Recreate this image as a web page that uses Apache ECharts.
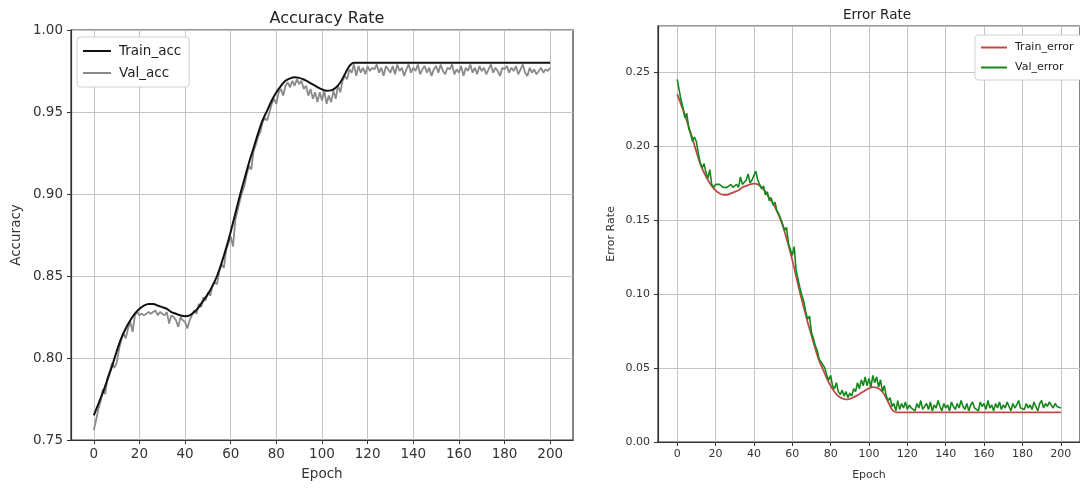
<!DOCTYPE html>
<html lang="en">
<head>
    <meta charset="UTF-8">
    <title>Accuracy / Error Rate</title>
    <script src="https://cdn.jsdelivr.net/npm/echarts@6/dist/echarts.min.js"></script>
    <style>
        html, body { margin: 0; padding: 0; background: #fff; }
    </style>
</head>
<body>
    <div id="main" style="width: 1080px;height: 488px"></div>
    <script type="application/javascript">
        // epochs: train curves sampled every 2 epochs, val curves every epoch
        var trainEpochs = [];
        for (var i = 0; i <= 200; i += 2) trainEpochs.push(i);
        var valEpochs = [];
        for (var j = 0; j <= 200; j++) valEpochs.push(j);

        var xTicks = [0, 20, 40, 60, 80, 100, 120, 140, 160, 180, 200];

        var trainAcc = [
            0.765, 0.772, 0.779, 0.787, 0.795, 0.804, 0.812, 0.818, 0.823, 0.827,
            0.830, 0.832, 0.833, 0.833, 0.832, 0.831, 0.830, 0.828, 0.827, 0.826,
            0.8255, 0.826, 0.828, 0.831, 0.835, 0.839, 0.844, 0.850, 0.858, 0.867,
            0.877, 0.888, 0.899, 0.909, 0.919, 0.928, 0.937, 0.945, 0.951, 0.957,
            0.962, 0.966, 0.969, 0.9705, 0.9712, 0.9708, 0.9698, 0.9684, 0.9668, 0.9652,
            0.9638, 0.963, 0.9632, 0.9648, 0.968, 0.973, 0.978, 0.980, 0.980, 0.980,
            0.980, 0.980, 0.980, 0.980, 0.980, 0.980, 0.980, 0.980, 0.980, 0.980,
            0.980, 0.980, 0.980, 0.980, 0.980, 0.980, 0.980, 0.980, 0.980, 0.980,
            0.980, 0.980, 0.980, 0.980, 0.980, 0.980, 0.980, 0.980, 0.980, 0.980,
            0.980, 0.980, 0.980, 0.980, 0.980, 0.980, 0.980, 0.980, 0.980, 0.980,
            0.980
        ];

        var valAcc = [
            0.756, 0.762, 0.769, 0.774, 0.781, 0.778, 0.788, 0.792, 0.797, 0.794,
            0.797, 0.805, 0.811, 0.815, 0.812, 0.818, 0.822, 0.816, 0.826, 0.828,
            0.826, 0.827, 0.826, 0.827, 0.828, 0.827, 0.828, 0.829, 0.826, 0.828,
            0.827, 0.826, 0.828, 0.821, 0.826, 0.825, 0.823, 0.819, 0.825, 0.823,
            0.822, 0.818, 0.823, 0.826, 0.829, 0.827, 0.833, 0.831, 0.837, 0.835,
            0.840, 0.838, 0.844, 0.846, 0.845, 0.853, 0.857, 0.855, 0.866, 0.870,
            0.874, 0.868, 0.884, 0.890, 0.896, 0.901, 0.905, 0.912, 0.917, 0.915,
            0.926, 0.930, 0.935, 0.938, 0.944, 0.946, 0.945, 0.950, 0.955, 0.958,
            0.955, 0.962, 0.964, 0.960, 0.966, 0.968, 0.965, 0.969, 0.966, 0.970,
            0.967, 0.969, 0.964, 0.966, 0.960, 0.964, 0.958, 0.962, 0.956, 0.962,
            0.957, 0.963, 0.955, 0.960, 0.956, 0.963, 0.958, 0.966, 0.962, 0.969,
            0.972, 0.970, 0.976, 0.974, 0.979, 0.972, 0.978, 0.974, 0.977, 0.973,
            0.978, 0.975, 0.977, 0.976, 0.979, 0.974, 0.977, 0.972, 0.978, 0.976,
            0.974, 0.978, 0.973, 0.979, 0.975, 0.977, 0.972, 0.976, 0.979, 0.974,
            0.977, 0.975, 0.979, 0.973, 0.976, 0.978, 0.974, 0.977, 0.972, 0.976,
            0.978, 0.974, 0.979, 0.975, 0.973, 0.977, 0.976, 0.979, 0.973, 0.976,
            0.974, 0.978, 0.972, 0.977, 0.975, 0.979, 0.974, 0.977, 0.973, 0.978,
            0.975, 0.977, 0.973, 0.976, 0.979, 0.974, 0.977, 0.975, 0.972, 0.977,
            0.976, 0.978, 0.974, 0.977, 0.975, 0.978, 0.973, 0.976, 0.979, 0.974,
            0.972, 0.977, 0.974, 0.976, 0.973, 0.975, 0.977, 0.974, 0.976, 0.975,
            0.977
        ];

        var trainError = [
            0.235, 0.228, 0.221, 0.213, 0.205, 0.196, 0.188, 0.182, 0.177, 0.173,
            0.170, 0.168, 0.167, 0.167, 0.168, 0.169, 0.170, 0.172, 0.173, 0.174,
            0.1745, 0.174, 0.172, 0.169, 0.165, 0.161, 0.156, 0.150, 0.142, 0.133,
            0.123, 0.112, 0.101, 0.091, 0.081, 0.072, 0.063, 0.055, 0.049, 0.043,
            0.038, 0.034, 0.031, 0.0295, 0.0288, 0.0292, 0.0302, 0.0316, 0.0332, 0.0348,
            0.0362, 0.037, 0.0368, 0.0352, 0.032, 0.027, 0.022, 0.020, 0.020, 0.020,
            0.020, 0.020, 0.020, 0.020, 0.020, 0.020, 0.020, 0.020, 0.020, 0.020,
            0.020, 0.020, 0.020, 0.020, 0.020, 0.020, 0.020, 0.020, 0.020, 0.020,
            0.020, 0.020, 0.020, 0.020, 0.020, 0.020, 0.020, 0.020, 0.020, 0.020,
            0.020, 0.020, 0.020, 0.020, 0.020, 0.020, 0.020, 0.020, 0.020, 0.020,
            0.020
        ];

        var valError = [
            0.245, 0.238, 0.231, 0.226, 0.219, 0.222, 0.212, 0.208, 0.203, 0.206,
            0.203, 0.195, 0.189, 0.185, 0.188, 0.182, 0.178, 0.184, 0.174, 0.172,
            0.174, 0.173, 0.174, 0.173, 0.172, 0.173, 0.172, 0.171, 0.174, 0.172,
            0.173, 0.174, 0.172, 0.179, 0.174, 0.175, 0.177, 0.181, 0.175, 0.177,
            0.178, 0.183, 0.177, 0.174, 0.171, 0.173, 0.167, 0.169, 0.163, 0.165,
            0.160, 0.162, 0.156, 0.154, 0.155, 0.147, 0.143, 0.145, 0.134, 0.130,
            0.126, 0.132, 0.116, 0.110, 0.104, 0.099, 0.095, 0.088, 0.083, 0.085,
            0.074, 0.070, 0.065, 0.062, 0.056, 0.054, 0.055, 0.050, 0.045, 0.042,
            0.045, 0.038, 0.036, 0.040, 0.034, 0.032, 0.035, 0.031, 0.034, 0.030,
            0.033, 0.031, 0.036, 0.034, 0.040, 0.036, 0.042, 0.038, 0.044, 0.038,
            0.043, 0.037, 0.045, 0.040, 0.044, 0.037, 0.042, 0.034, 0.038, 0.031,
            0.028, 0.030, 0.024, 0.026, 0.021, 0.028, 0.022, 0.026, 0.023, 0.027,
            0.022, 0.025, 0.023, 0.024, 0.021, 0.026, 0.023, 0.028, 0.022, 0.024,
            0.026, 0.022, 0.027, 0.021, 0.025, 0.023, 0.028, 0.024, 0.021, 0.026,
            0.023, 0.025, 0.021, 0.027, 0.024, 0.022, 0.026, 0.023, 0.028, 0.024,
            0.022, 0.026, 0.021, 0.025, 0.027, 0.023, 0.024, 0.021, 0.027, 0.024,
            0.026, 0.022, 0.028, 0.023, 0.025, 0.021, 0.026, 0.023, 0.027, 0.022,
            0.025, 0.023, 0.027, 0.024, 0.021, 0.026, 0.023, 0.025, 0.028, 0.023,
            0.024, 0.022, 0.026, 0.023, 0.025, 0.022, 0.027, 0.024, 0.021, 0.026,
            0.028, 0.023, 0.026, 0.024, 0.027, 0.025, 0.023, 0.026, 0.024, 0.025,
            0.023
        ];

        function pairs(xs, ys) {
            return xs.map(function (x, k) { return [x, ys[k]]; });
        }

        var FONT = 'DejaVu Sans';
        var gridLine = { show: true, lineStyle: { color: '#c4c4c4', width: 1 } };
        var axisLine = { show: true, onZero: false, lineStyle: { color: '#333', width: 1.2 } };

        function xAxisFor(idx, fontSize, nameGap) {
            return {
                gridIndex: idx, type: 'value', min: -10, max: 210,
                name: 'Epoch', nameLocation: 'middle', nameGap: nameGap,
                nameTextStyle: { fontFamily: FONT, fontSize: fontSize, color: '#333' },
                axisLine: axisLine,
                axisTick: { show: true, customValues: xTicks, length: 4, lineStyle: { color: '#333' } },
                axisLabel: { customValues: xTicks, fontFamily: FONT, fontSize: fontSize, color: '#333', margin: 7 },
                splitLine: gridLine
            };
        }

        function legendFor(names, left, top, fontSize, w, gap) {
            return {
                data: names, orient: 'vertical', left: left, top: top,
                icon: 'rect', itemWidth: w, itemHeight: 2, itemGap: gap, padding: [7, 8, 7, 6],
                borderColor: '#d0d0d0', borderWidth: 1, borderRadius: 3, backgroundColor: '#fff',
                textStyle: { fontFamily: FONT, fontSize: fontSize, color: '#222', padding: [0, 0, 0, 3] }
            };
        }

        var myChart = echarts.init(document.getElementById('main'));
        var option = {
            animation: false,
            backgroundColor: '#fff',
            title: [
                { text: 'Accuracy Rate', left: 322, top: 6, textAlign: 'center',
                  textStyle: { fontFamily: FONT, fontSize: 16, fontWeight: 'normal', color: '#222' } },
                { text: 'Error Rate', left: 872, top: 3, textAlign: 'center',
                  textStyle: { fontFamily: FONT, fontSize: 13.5, fontWeight: 'normal', color: '#222' } }
            ],
            legend: [
                legendFor(['Train_acc', 'Val_acc'], 77, 37, 13.5, 28, 8),
                legendFor(['Train_error', 'Val_error'], 975, 35, 11, 26, 9)
            ],
            grid: [
                { left: 71, top: 30, width: 502, height: 410, show: true, borderColor: '#333', borderWidth: 1.2 },
                { left: 658, top: 26, width: 428, height: 416, show: true, borderColor: '#333', borderWidth: 1.2 }
            ],
            xAxis: [xAxisFor(0, 13.5, 27), xAxisFor(1, 11, 28)],
            yAxis: [
                { gridIndex: 0, type: 'value', min: 0.75, max: 1.0, interval: 0.05,
                  name: 'Accuracy', nameLocation: 'middle', nameGap: 48,
                  nameTextStyle: { fontFamily: FONT, fontSize: 13.5, color: '#333' },
                  axisLine: axisLine,
                  axisTick: { show: true, length: 4, lineStyle: { color: '#333' } },
                  axisLabel: { fontFamily: FONT, fontSize: 13.5, color: '#333', margin: 8,
                               formatter: function (v) { return v.toFixed(2); } },
                  splitLine: gridLine },
                { gridIndex: 1, type: 'value', min: 0, max: 0.281, interval: 0.05,
                  name: 'Error Rate', nameLocation: 'middle', nameGap: 41,
                  nameTextStyle: { fontFamily: FONT, fontSize: 11, color: '#333' },
                  axisLine: axisLine,
                  axisTick: { show: true, length: 4, lineStyle: { color: '#333' } },
                  axisLabel: { fontFamily: FONT, fontSize: 11, color: '#333', margin: 8, showMaxLabel: false,
                               formatter: function (v) { return v.toFixed(2); } },
                  splitLine: gridLine }
            ],
            series: [
                { name: 'Train_acc', type: 'line', xAxisIndex: 0, yAxisIndex: 0, symbol: 'none',
                  smooth: 0.35, data: pairs(trainEpochs, trainAcc), z: 3,
                  lineStyle: { color: '#111', width: 2 }, itemStyle: { color: '#111' } },
                { name: 'Val_acc', type: 'line', xAxisIndex: 0, yAxisIndex: 0, symbol: 'none',
                  data: pairs(valEpochs, valAcc), z: 2,
                  lineStyle: { color: '#8a8a8a', width: 1.8 }, itemStyle: { color: '#8a8a8a' } },
                { name: 'Train_error', type: 'line', xAxisIndex: 1, yAxisIndex: 1, symbol: 'none',
                  smooth: 0.35, data: pairs(trainEpochs, trainError), z: 2,
                  lineStyle: { color: '#c0484a', width: 1.8 }, itemStyle: { color: '#c0484a' } },
                { name: 'Val_error', type: 'line', xAxisIndex: 1, yAxisIndex: 1, symbol: 'none',
                  data: pairs(valEpochs, valError), z: 3,
                  lineStyle: { color: '#14891a', width: 1.6 }, itemStyle: { color: '#14891a' } }
            ]
        };
        myChart.setOption(option);
    </script>
</body>
</html>
